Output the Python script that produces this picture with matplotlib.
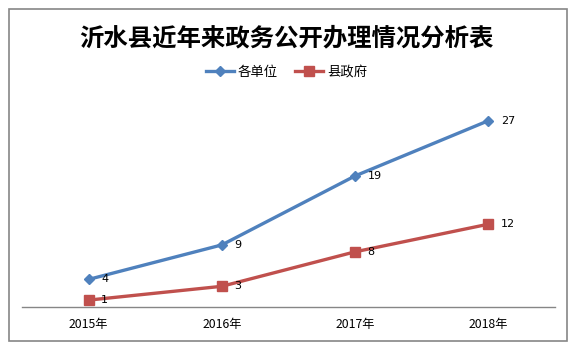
import matplotlib as mpl
mpl.use('Agg')
import matplotlib.pyplot as plt
from matplotlib.patches import Rectangle

plt.rcParams['font.family'] = ['Noto Sans CJK SC', 'DejaVu Sans']

years = ["2015年", "2016年", "2017年", "2018年"]
units = [4, 9, 19, 27]
county = [1, 3, 8, 12]
names = ["各单位", "县政府"]

W, H = 573, 353
fig = plt.figure(figsize=(W / 100, H / 100), dpi=100)
fig.patch.set_facecolor('white')

# outer chart border
fig.patches.append(Rectangle((9 / W, 1 - 341 / H), 558 / W, 332 / H,
                             transform=fig.transFigure, fill=False,
                             edgecolor='#868686', linewidth=1.2))

ax = fig.add_axes([22 / W, 1 - 307 / H, 533 / W, 207 / H])
x = range(len(years))
ax.plot(x, units, color='#4F81BD', lw=2.4, marker='D', ms=5.5, label=names[0])
ax.plot(x, county, color='#C0504D', lw=2.4, marker='s', ms=7, label=names[1])

for xi, v in zip(x, units):
    ax.annotate(str(v), (xi, v), xytext=(9, 0), textcoords='offset points',
                va='center', ha='left', fontsize=8, family='DejaVu Sans')
for xi, v in zip(x, county):
    ax.annotate(str(v), (xi, v), xytext=(9, 0), textcoords='offset points',
                va='center', ha='left', fontsize=8, family='DejaVu Sans')

ax.set_xlim(-0.5, 3.5)
ax.set_ylim(0, 30)
ax.set_xticks(list(x))
ax.set_xticklabels(years, fontsize=8.8)
ax.tick_params(axis='x', length=0, pad=8)
ax.set_yticks([])
for s in ['top', 'right', 'left']:
    ax.spines[s].set_visible(False)
ax.spines['bottom'].set_color('#868686')
ax.spines['bottom'].set_linewidth(1)
ax.set_facecolor('none')

fig.text(0.5, 1 - 38 / H, "沂水县近年来政务公开办理情况分析表", ha='center', va='center',
         fontsize=17.6, fontweight='bold')

fig.legend(loc='center', bbox_to_anchor=(0.5, 1 - 72 / H), ncol=2, frameon=False,
           fontsize=9.6, handlelength=2.1, handletextpad=0.3, columnspacing=1.3)

fig.savefig('out.png', dpi=100)
